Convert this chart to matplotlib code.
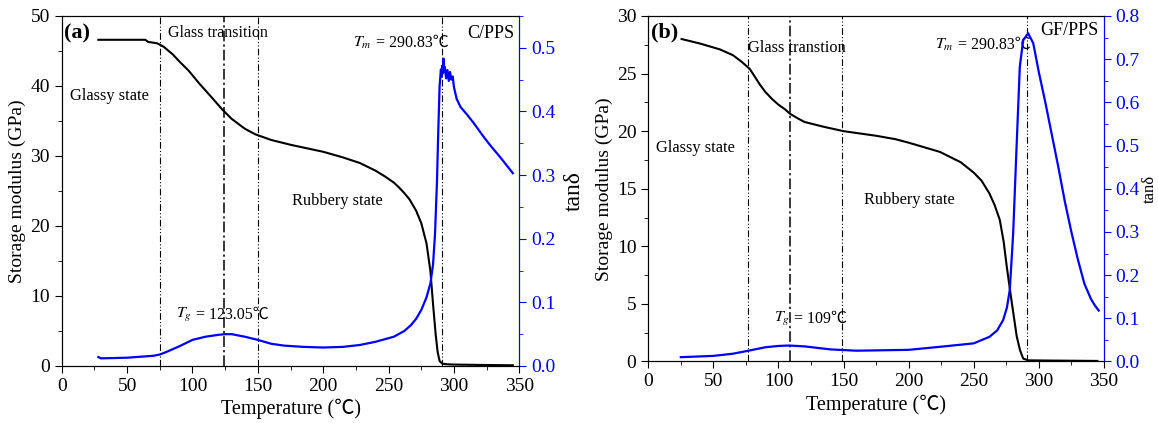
import matplotlib
matplotlib.use("Agg")
import matplotlib.pyplot as plt
from matplotlib.ticker import MultipleLocator, FormatStrFormatter

plt.rcParams['font.family'] = ['Liberation Serif', 'Noto Sans CJK SC']
plt.rcParams['mathtext.fontset'] = 'stix'

# (a) C/PPS
temp_a = [28, 40, 55, 64, 66, 73, 78, 85, 90, 97, 105, 115, 123, 130, 140, 148, 160, 175, 200,
          215, 228, 240, 247, 254, 258, 262, 266, 271, 275, 279, 282, 284, 286, 287.5, 289,
          291, 294, 300, 320, 345]
mod_a = [46.6, 46.6, 46.6, 46.6, 46.3, 46.1, 45.6, 44.5, 43.5, 42.2, 40.4, 38.3, 36.6, 35.3,
         33.9, 33.1, 32.3, 31.6, 30.6, 29.8, 29.0, 27.9, 27.1, 26.2, 25.5, 24.7, 23.8, 22.2,
         20.4, 17.5, 13.5, 8.8, 4.5, 2.0, 0.7, 0.35, 0.25, 0.2, 0.15, 0.1]
tan_temp_a = [28, 30, 50, 70, 75, 80, 90, 100, 110, 120, 125, 130, 140, 150, 160, 170, 185, 200,
              215, 228, 240, 254, 262, 267, 271, 275, 279, 282, 284, 285.5, 287, 288, 289,
              290, 290.5, 291, 291.5, 292, 292.5, 293, 294, 295, 296, 297, 298, 299, 300,
              302, 305, 310, 315, 322, 328, 335, 340, 345]
tan_a = [0.014, 0.012, 0.013, 0.016, 0.018, 0.022, 0.031, 0.041, 0.046, 0.049, 0.050, 0.050,
         0.046, 0.041, 0.035, 0.032, 0.030, 0.029, 0.030, 0.033, 0.038, 0.046, 0.055, 0.064,
         0.074, 0.088, 0.108, 0.130, 0.160, 0.208, 0.290, 0.370, 0.440, 0.466, 0.455, 0.472,
         0.460, 0.483, 0.462, 0.470, 0.452, 0.465, 0.448, 0.462, 0.450, 0.455, 0.438, 0.420,
         0.407, 0.395, 0.382, 0.362, 0.346, 0.329, 0.316, 0.303]
vlines_a = [75, 150, 291]
tg_a = 124

# (b) GF/PPS
temp_b = [25.6, 40, 55, 65, 72, 78, 82, 86, 90, 95, 100, 105, 109, 115, 120, 127, 134, 150,
          175, 190, 200, 224, 240, 250, 256, 262, 266, 270, 273, 275.3, 279, 283, 285.5, 288,
          292, 310, 345]
mod_b = [28.0, 27.6, 27.1, 26.6, 26.0, 25.4, 24.7, 24.0, 23.4, 22.8, 22.3, 21.9, 21.5, 21.1,
         20.8, 20.6, 20.4, 20.0, 19.6, 19.3, 19.0, 18.2, 17.3, 16.4, 15.7, 14.6, 13.6, 12.3,
         10.4, 8.3, 5.3, 2.2, 1.0, 0.25, 0.1, 0.08, 0.05]
tan_temp_b = [25, 50, 65, 77, 90, 100, 108, 120, 140, 160, 200, 224, 250, 262, 268, 272.6,
              275.5, 277.7, 280.3, 282.8, 285.4, 288, 291.8, 295.7, 300, 305, 310, 315, 320,
              325, 330, 335, 340, 343, 346]
tan_b = [0.010, 0.013, 0.018, 0.025, 0.033, 0.036, 0.037, 0.035, 0.028, 0.025, 0.027, 0.034,
         0.042, 0.057, 0.072, 0.096, 0.125, 0.166, 0.297, 0.489, 0.683, 0.744, 0.760, 0.737,
         0.670, 0.600, 0.525, 0.450, 0.370, 0.300, 0.236, 0.180, 0.145, 0.130, 0.118]
vlines_b = [77, 149, 291]
tg_b = 109

fig = plt.figure(figsize=(11.58, 4.23), dpi=100)
ax_a = fig.add_axes([0.0533, 0.1348, 0.3952, 0.8274])
ax_b = fig.add_axes([0.5598, 0.1454, 0.3935, 0.8168])


def draw_panel(ax, temp, mod, tan_temp, tan, vlines, tg, ymax, y_step, tmax, tan_size, tan_pad):
    ax.plot(temp, mod, color='black', lw=1.5)
    for v in vlines:
        ax.axvline(v, color='black', lw=0.8, ls=(0, (6, 2, 1, 2, 1, 2)))
    ax.axvline(tg, color='black', lw=1.1, ls=(0, (7, 2, 1.5, 2)))
    ax.set_xlim(0, 350)
    ax.set_ylim(0, ymax)
    ax.xaxis.set_major_locator(MultipleLocator(50))
    ax.xaxis.set_minor_locator(MultipleLocator(25))
    ax.yaxis.set_major_locator(MultipleLocator(y_step))
    ax.yaxis.set_minor_locator(MultipleLocator(y_step / 2))
    ax.tick_params(which='both', direction='out', labelsize=14, top=False)
    ax.tick_params(which='major', length=5)
    ax.tick_params(which='minor', length=3)
    ax.set_xlabel('Temperature (℃)', fontsize=14.5, labelpad=3)
    ax.set_ylabel('Storage modulus (GPa)', fontsize=14, labelpad=3)

    ax2 = ax.twinx()
    ax2.plot(tan_temp, tan, color='blue', lw=1.6)
    ax2.set_ylim(0, tmax)
    ax2.yaxis.set_major_locator(MultipleLocator(0.1))
    ax2.yaxis.set_minor_locator(MultipleLocator(0.05))
    ax2.yaxis.set_major_formatter(FormatStrFormatter('%.1f'))
    ax2.tick_params(which='both', direction='out', labelsize=14, colors='blue')
    ax2.tick_params(which='major', length=5)
    ax2.tick_params(which='minor', length=3)
    ax2.spines['right'].set_color('blue')
    ax2.set_ylabel('tanδ', fontsize=tan_size, color='black', labelpad=tan_pad)
    return ax2


def temp_note(ax, x, y, sym, rest, size=11.5):
    # italic symbol from mathtext, value text placed right after it
    t = ax.text(x, y, sym, fontsize=size, va='baseline')
    fig.canvas.draw()
    w = t.get_window_extent().width * 72 / fig.dpi
    ax.annotate(rest, xy=(x, y), xytext=(w, 0), textcoords='offset points',
                fontsize=size, va='baseline')


draw_panel(ax_a, temp_a, mod_a, tan_temp_a, tan_a, vlines_a, tg_a, 50, 10, 0.55, 17, 6)
draw_panel(ax_b, temp_b, mod_b, tan_temp_b, tan_b, vlines_b, tg_b, 30, 5, 0.8, 12, 1)

# panel (a) annotations
ax_a.text(2, 47.5, '(a)', fontsize=16, fontweight='bold', va='center')
ax_a.text(81, 47.6, 'Glass transition', fontsize=11.5, va='center')
ax_a.text(6, 38.5, 'Glassy state', fontsize=11.8, va='center')
ax_a.text(176, 23.5, 'Rubbery state', fontsize=11.8, va='center')
ax_a.text(346, 47.5, 'C/PPS', fontsize=13, va='center', ha='right')
temp_note(ax_a, 222.7, 45.6, r'$T_m$', ' = 290.83℃')
temp_note(ax_a, 87.4, 6.8, r'$T_g$', ' = 123.05℃')

# panel (b) annotations
ax_b.text(2.3, 28.6, '(b)', fontsize=16, fontweight='bold', va='center')
ax_b.text(76.8, 27.2, 'Glass transtion', fontsize=11.8, va='center')
ax_b.text(6, 18.5, 'Glassy state', fontsize=11.8, va='center')
ax_b.text(165.8, 14.0, 'Rubbery state', fontsize=11.8, va='center')
ax_b.text(346, 28.75, 'GF/PPS', fontsize=13, va='center', ha='right')
temp_note(ax_b, 220.5, 27.15, r'$T_m$', ' = 290.83℃')
temp_note(ax_b, 96.6, 3.4, r'$T_g$', ' = 109℃')

fig.savefig('out.png', dpi=100)
